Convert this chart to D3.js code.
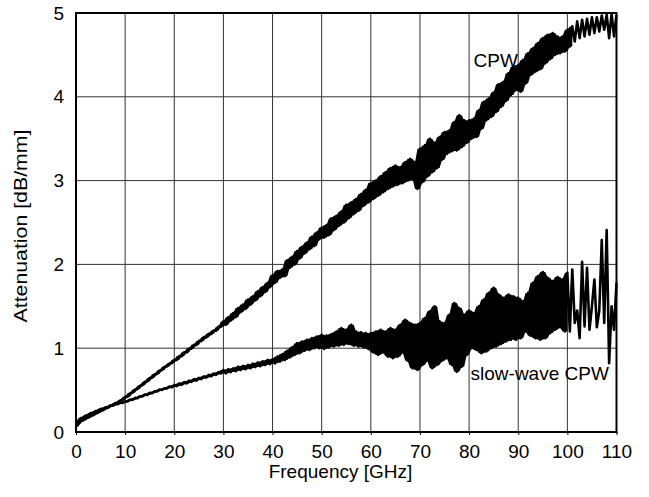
<!DOCTYPE html>
<html>
<head>
<meta charset="utf-8">
<script src="https://cdn.jsdelivr.net/npm/d3@7/dist/d3.min.js"></script>
<style>
  body { margin: 0; background: #fff; }
  text { font-family: "Liberation Sans", Arial, sans-serif; fill: #000; }
</style>
</head>
<body>
<svg id="chart" width="649" height="497"></svg>
<script>
// axis ticks
var xTicks = [0, 10, 20, 30, 40, 50, 60, 70, 80, 90, 100, 110];
var yTicks = [0, 1, 2, 3, 4, 5];

// frequency sweep: 0 .. 110 GHz, one sample every 0.5 GHz
var freqStart = 0, freqStep = 0.5;

// CPW attenuation [dB/mm] (noisy trace)
var cpw = [
  0.075, 0.105, 0.135, 0.14, 0.165, 0.17, 0.195, 0.20, 0.225, 0.23, 0.255, 0.26, 0.285, 0.29, 0.315, 0.32, 0.345, 0.35, 0.375, 0.385,
  0.418, 0.422, 0.463, 0.469, 0.508, 0.512, 0.553, 0.559, 0.598, 0.602, 0.643, 0.649, 0.688, 0.692, 0.733, 0.739, 0.778, 0.782, 0.818, 0.822,
  0.862, 0.86, 0.906, 0.904, 0.952, 0.948, 0.997, 0.995, 1.042, 1.038, 1.087, 1.085, 1.132, 1.128, 1.172, 1.168, 1.212, 1.208, 1.257, 1.255,
  1.32, 1.28, 1.37, 1.33, 1.42, 1.37, 1.48, 1.43, 1.52, 1.47, 1.58, 1.52, 1.62, 1.57, 1.68, 1.62, 1.73, 1.67, 1.78, 1.73,
  1.87, 1.78, 1.92, 1.84, 1.94, 1.86, 2.05, 1.96, 2.09, 2.00, 2.16, 2.07, 2.21, 2.13, 2.26, 2.18, 2.33, 2.22, 2.38, 2.30,
  2.44, 2.32, 2.47, 2.35, 2.55, 2.41, 2.58, 2.46, 2.63, 2.50, 2.71, 2.55, 2.74, 2.60, 2.78, 2.64, 2.84, 2.70, 2.89, 2.74,
  2.97, 2.78, 3.00, 2.82, 3.05, 2.86, 3.10, 2.90, 3.15, 2.93, 3.18, 2.95, 3.16, 2.97, 3.22, 3.00, 3.26, 3.02, 3.22, 2.90,
  3.38, 2.98, 3.42, 3.05, 3.50, 3.10, 3.45, 3.15, 3.52, 3.25, 3.58, 3.32, 3.60, 3.35, 3.70, 3.36, 3.78, 3.40, 3.72, 3.45,
  3.72, 3.50, 3.74, 3.52, 3.84, 3.62, 3.94, 3.72, 3.98, 3.76, 4.05, 3.82, 4.15, 3.88, 4.18, 3.95, 4.28, 4.02, 4.36, 4.08,
  4.38, 4.06, 4.44, 4.16, 4.52, 4.26, 4.58, 4.30, 4.64, 4.33, 4.70, 4.40, 4.74, 4.45, 4.76, 4.50, 4.72, 4.52, 4.72, 4.54,
  4.80, 4.60, 4.84, 4.66, 4.90, 4.70, 4.92, 4.72, 4.93, 4.74, 4.95, 4.76, 4.95, 4.78, 4.97, 4.80, 4.98, 4.70, 4.99, 4.72, 4.98
];

// slow-wave CPW attenuation [dB/mm]
var slowWave = [
  0.066, 0.114, 0.166, 0.169, 0.196, 0.199, 0.226, 0.226, 0.251, 0.251, 0.276, 0.274, 0.296, 0.294, 0.316, 0.314, 0.336, 0.331, 0.351, 0.346,
  0.367, 0.363, 0.387, 0.383, 0.407, 0.403, 0.427, 0.423, 0.447, 0.443, 0.467, 0.463, 0.487, 0.483, 0.507, 0.503, 0.522, 0.518, 0.542, 0.533,
  0.562, 0.547, 0.579, 0.563, 0.596, 0.58, 0.613, 0.597, 0.63, 0.614, 0.647, 0.631, 0.664, 0.648, 0.681, 0.665, 0.698, 0.682, 0.715, 0.699,
  0.74, 0.70, 0.75, 0.715, 0.76, 0.725, 0.78, 0.74, 0.79, 0.75, 0.80, 0.76, 0.815, 0.775, 0.83, 0.785, 0.845, 0.80, 0.86, 0.81,
  0.87, 0.82, 0.90, 0.84, 0.93, 0.86, 0.97, 0.89, 1.01, 0.92, 1.06, 0.94, 1.08, 0.97, 1.10, 0.98, 1.12, 1.00, 1.14, 1.00,
  1.16, 0.99, 1.15, 1.01, 1.17, 1.02, 1.20, 1.03, 1.24, 1.04, 1.22, 1.05, 1.28, 1.03, 1.20, 1.02, 1.19, 1.01, 1.18, 0.99,
  1.18, 0.95, 1.20, 0.92, 1.22, 0.95, 1.20, 0.90, 1.24, 0.88, 1.22, 0.90, 1.28, 0.95, 1.34, 0.85, 1.30, 0.76, 1.28, 0.74,
  1.30, 0.80, 1.36, 0.85, 1.44, 0.76, 1.50, 0.80, 1.32, 0.85, 1.30, 0.88, 1.40, 0.80, 1.54, 0.72, 1.48, 0.78, 1.40, 0.92,
  1.45, 1.00, 1.42, 0.98, 1.50, 0.94, 1.58, 0.96, 1.66, 1.00, 1.72, 1.02, 1.64, 1.05, 1.60, 1.08, 1.64, 1.10, 1.62, 1.10,
  1.60, 1.12, 1.56, 1.20, 1.66, 1.15, 1.78, 1.12, 1.86, 1.10, 1.91, 1.12, 1.84, 1.18, 1.80, 1.22, 1.85, 1.25, 1.82, 1.20,
  1.90, 1.20, 1.94, 1.30, 1.45, 1.12, 2.03, 1.26, 1.96, 1.22, 1.50, 1.82, 1.25, 1.45, 2.29, 1.30, 2.41, 0.82, 1.50, 1.22, 1.78
];

// where each trace stops looking like a solid band and turns into spikes [GHz]
var bandEnd = {cpw: 101, slowWave: 100};

var notes = [
  {text: "CPW", f: 80.9, a: 4.36},
  {text: "slow-wave CPW", f: 80.3, a: 0.62}
];

var svg = d3.select("#chart"),
    margin = {top: 13, right: 32.5, bottom: 65, left: 76},
    width = +svg.attr("width") - margin.left - margin.right,
    height = +svg.attr("height") - margin.top - margin.bottom;

var x = d3.scaleLinear().domain([0, 110]).range([margin.left, margin.left + width]),
    y = d3.scaleLinear().domain([0, 5]).range([margin.top + height, margin.top]);

// samples with the local min / max of their neighbours (the noise band)
function sweep(vals) {
  return vals.map(function(v, i) {
    var w = vals.slice(Math.max(0, i - 1), i + 2);
    return {f: freqStart + i * freqStep, a: v, lo: d3.min(w), hi: d3.max(w)};
  });
}

// grid
svg.append("g").selectAll("line")
  .data(xTicks.slice(1, -1))
  .enter().append("line")
  .attr("x1", function(d) { return x(d); }).attr("x2", function(d) { return x(d); })
  .attr("y1", y(0)).attr("y2", y(5))
  .attr("stroke", "#333").attr("stroke-width", 1);

svg.append("g").selectAll("line")
  .data(yTicks.slice(1, -1))
  .enter().append("line")
  .attr("y1", function(d) { return y(d); }).attr("y2", function(d) { return y(d); })
  .attr("x1", x(0)).attr("x2", x(110))
  .attr("stroke", "#333").attr("stroke-width", 1);

// traces
var line = d3.line()
  .x(function(d) { return x(d.f); })
  .y(function(d) { return y(d.a); });

[[cpw, bandEnd.cpw], [slowWave, bandEnd.slowWave]].forEach(function(s) {
  var pts = sweep(s[0]), end = s[1];
  var band = d3.area()
    .defined(function(d) { return d.f <= end; })
    .x(function(d) { return x(d.f); })
    .y0(function(d) { return y(d.lo); })
    .y1(function(d) { return y(d.hi); });

  svg.append("path")
    .datum(pts)
    .attr("d", band)
    .attr("fill", "#000");

  svg.append("path")
    .datum(pts)
    .attr("d", line)
    .attr("fill", "none")
    .attr("stroke", "#000")
    .attr("stroke-width", 2.6)
    .attr("stroke-linejoin", "round");
});

// frame
svg.append("rect")
  .attr("x", x(0)).attr("y", y(5))
  .attr("width", x(110) - x(0)).attr("height", y(0) - y(5))
  .attr("fill", "none").attr("stroke", "#000").attr("stroke-width", 2);

// x axis
var xAxis = svg.append("g")
  .attr("transform", "translate(0," + y(0) + ")")
  .call(d3.axisBottom(x).tickValues(xTicks).tickSize(3).tickPadding(10));
xAxis.select(".domain").remove();
xAxis.selectAll("line").attr("stroke", "#000");
xAxis.selectAll("text").attr("font-size", 19).attr("font-family", null);

// y axis
var yAxis = svg.append("g")
  .attr("transform", "translate(" + x(0) + ",0)")
  .call(d3.axisLeft(y).tickValues(yTicks).tickFormat(d3.format("d")).tickSize(0).tickPadding(12));
yAxis.select(".domain").remove();
yAxis.selectAll("text").attr("font-size", 19).attr("font-family", null);

// axis titles
svg.append("text")
  .attr("x", 340.5).attr("y", 478)
  .attr("text-anchor", "middle")
  .attr("font-size", 19)
  .text("Frequency [GHz]");

svg.append("text")
  .attr("transform", "translate(27,226) rotate(-90)")
  .attr("text-anchor", "middle")
  .attr("font-size", 19)
  .attr("textLength", 193)
  .attr("lengthAdjust", "spacingAndGlyphs")
  .text("Attenuation [dB/mm]");

// trace labels
svg.selectAll("text.note")
  .data(notes)
  .enter().append("text")
  .attr("class", "note")
  .attr("x", function(d) { return x(d.f); })
  .attr("y", function(d) { return y(d.a); })
  .attr("font-size", 19)
  .text(function(d) { return d.text; });
</script>
</body>
</html>
